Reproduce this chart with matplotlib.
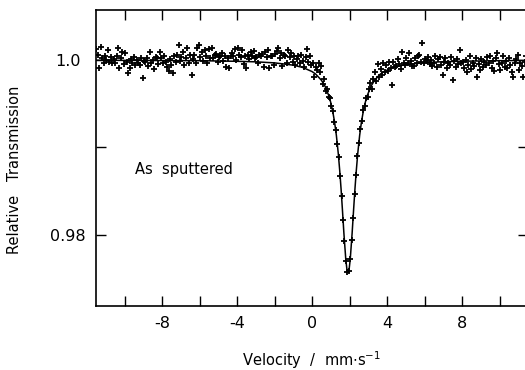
import numpy as np
import matplotlib
matplotlib.use('Agg')
import matplotlib.pyplot as plt
from matplotlib.ticker import FixedLocator

# measured spectrum: 300 channels from -11.5 to 11.5 mm/s
v_first, v_last, n_chan = -11.5, 11.5, 300
# transmission deviation from 1.0, in units of 1e-4
dev = [
    12, 6, -9, 15, 2, -3, 4, 0, 11, -2,
    3, -4, 1, -3, 5, 14, -9, 2, 9, -5,
    8, -2, -15, -9, 1, -3, 3, -6, 0, -4,
    -6, 2, -21, -1, -2, 2, -7, 9, -4, 0,
    -10, 3, 2, -5, 9, 2, -3, 5, -2, -8,
    -13, 1, -6, -15, 4, -2, 6, 17, -1, 3,
    9, -6, 2, 14, -3, 6, -17, 1, 6, -4,
    14, 17, 3, 9, -1, 11, 5, -3, 13, 2,
    14, 2, 6, 7, -2, 3, 4, 8, -1, 5,
    -8, 2, -9, 5, 8, 4, 12, 0, 14, 6,
    3, 11, -5, 5, -9, 6, 1, 9, 4, 10,
    2, 3, -4, 6, 4, 7, -8, 9, 3, 11,
    -9, 5, 4, -6, 7, 10, 14, 2, 8, -7,
    6, 4, -3, 11, 3, 8, -2, 5, -6, 1,
    4, -3, 6, -1, -8, 3, 12, -2, 5, -6,
    -4, -19, -8, -11, -4, -14, -7, -28, -22, -35,
    -33, -42, -44, -53, -58, -71, -80, -96, -111, -133,
    -155, -183, -207, -230, -242, -241, -228, -206, -181, -153,
    -131, -110, -95, -79, -70, -57, -53, -44, -42, -33,
    -26, -33, -22, -14, -24, -5, -19, -10, -17, -3,
    -14, -6, -13, -2, -9, -29, -2, -8, -7, 1,
    -5, -10, 9, -3, -6, 2, -4, 8, -1, -7,
    -7, 2, -3, 4, 6, -2, 19, -4, 1, -1,
    3, -5, 0, -7, -3, 4, -8, 1, 3, -6,
    -17, -2, 2, -9, -4, -6, 3, -23, -1, -8,
    1, -5, 11, -3, -2, -9, 0, -14, -6, 4,
    -10, -3, -7, 2, -20, -5, -12, 1, -8, -2,
    -6, 3, -4, 4, -9, -1, -13, 2, 8, -5,
    -12, -3, 5, -8, -1, -9, 2, -6, -14, -20,
    -4, 1, 6, -11, -3, -7, -19, -2, 4, -10,
]

# fitted curve
fit_v = [-11.6, -6, -4, -3, -2, -1, -0.5, 0, 0.2, 0.5, 0.7, 0.9, 1.0, 1.1, 1.2,
         1.3, 1.4, 1.48, 1.55, 1.62, 1.7, 1.8, 1.86, 1.92, 1.98, 2.04, 2.14,
         2.22, 2.29, 2.36, 2.44, 2.54, 2.64, 2.74, 2.84, 2.94, 3.14, 3.34, 3.64,
         3.84, 4.34, 4.84, 5.84, 6.84, 7.84, 9.84, 11.6]
fit_dev = [-0.3, -0.8, -1.5, -2.1, -3.3, -5.9, -8.5, -13.2, -16.2, -23.1, -30.2,
           -41.1, -48.6, -58.2, -70.4, -86.3, -106.7, -127, -147.5, -170.5,
           -197.8, -227.5, -239, -243, -239, -227.5, -197.8, -170.5, -147.5,
           -127, -106.7, -86.3, -70.4, -58.2, -48.6, -41.1, -30.2, -23.1, -16.2,
           -13.2, -8.5, -5.9, -3.3, -2.1, -1.5, -0.8, -0.5]

vel = np.linspace(v_first, v_last, n_chan)
trans = 1 + np.array(dev) * 1e-4
fit_t = 1 + np.array(fit_dev) * 1e-4

fig = plt.figure(figsize=(5.25, 3.70), dpi=100)
ax = fig.add_axes([0.1829, 0.173, 0.8221, 0.800])

ax.plot(fit_v, fit_t, color='black', lw=1.1, zorder=2)
ax.plot(vel, trans, linestyle='none', marker='+', ms=4.5, mew=1.3,
        color='black', zorder=3)

ax.set_xlim(-11.52, 11.5)
ax.set_ylim(0.971886, 1.005714)

ax.set_xticks([-8, -4, 0, 4, 8])
ax.set_xticklabels(['-8', '-4', '0', '4', '8'])
ax.xaxis.set_minor_locator(FixedLocator([-10, -6, -2, 2, 6, 10]))
ax.set_yticks([0.98, 0.99, 1.0])
ax.set_yticklabels(['0.98', '', '1.0'])

ax.tick_params(which='both', direction='in', length=7, width=1,
               top=True, right=True, labelsize=11.5)
ax.tick_params(axis='x', pad=7)
ax.tick_params(axis='y', pad=20)
for lbl in ax.get_yticklabels():
    lbl.set_ha('center')

for sp in ax.spines.values():
    sp.set_linewidth(1.2)

ax.set_xlabel('Velocity  /  mm$\\cdot$s$^{-1}$', fontsize=10.5)
ax.xaxis.set_label_coords(0.5, -0.145)
ax.set_ylabel('Relative   Transmission', fontsize=10.5)
ax.yaxis.set_label_coords(-0.171, 0.46)

ax.text(-9.44, 0.98743, 'As  sputtered', fontsize=10.5, va='center', ha='left')

fig.savefig('out.png', dpi=100)
